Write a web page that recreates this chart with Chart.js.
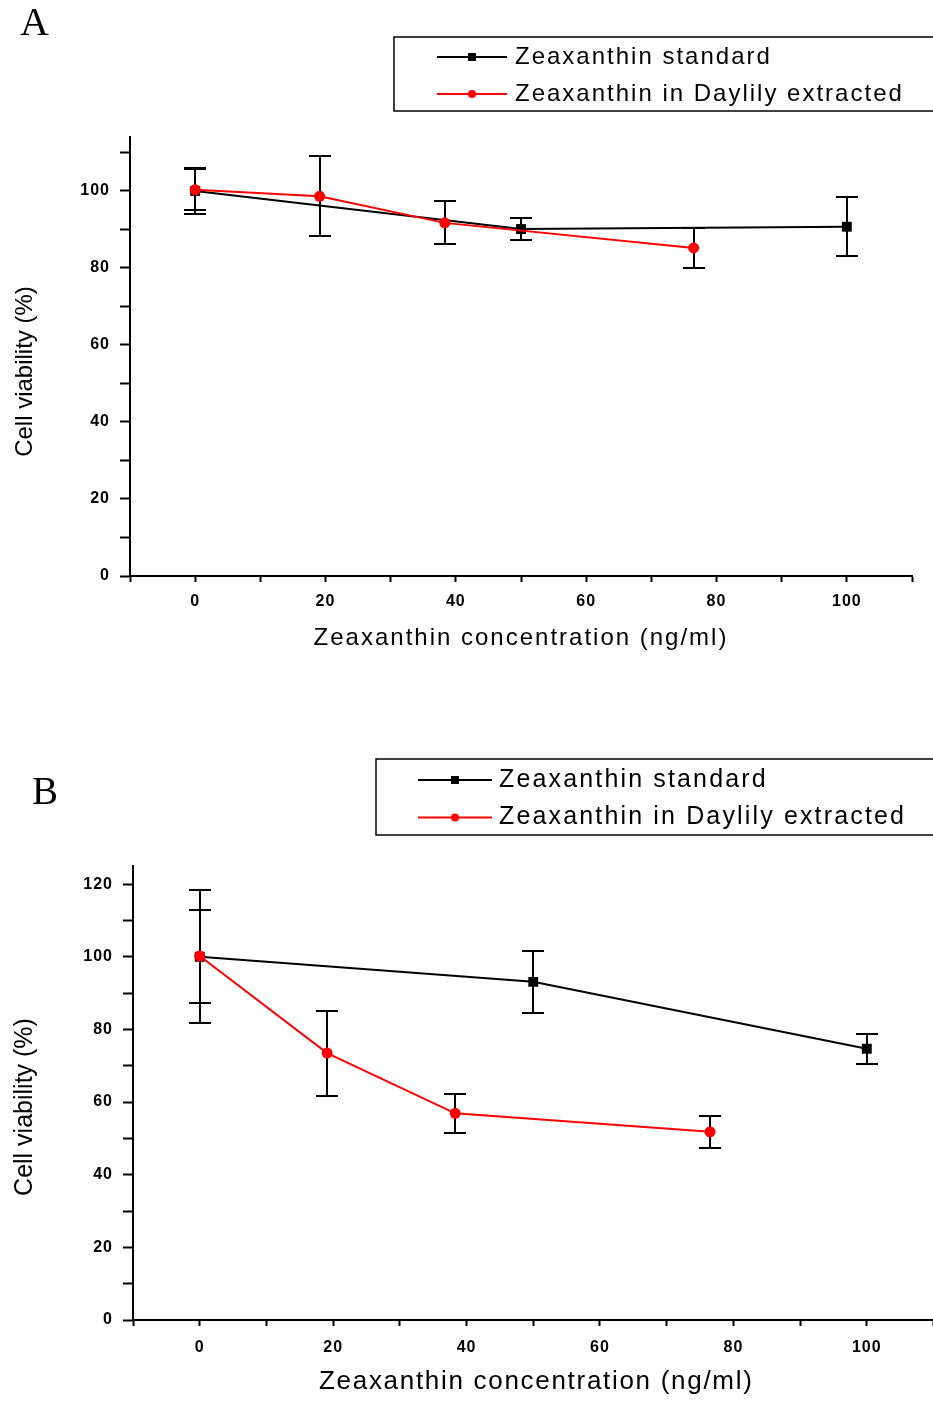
<!DOCTYPE html>
<html><head><meta charset="utf-8">
<script src="https://cdn.jsdelivr.net/npm/chart.js@4.4.1/dist/chart.umd.min.js"></script>
<style>
html,body{margin:0;padding:0;background:#fff;width:933px;height:1402px;overflow:hidden;}
#wrap{position:relative;width:933px;height:1402px;overflow:hidden;background:#fff;}
.panel{position:absolute;left:0;}
.panel canvas{display:block;}
.lbl{position:absolute;font-family:"Liberation Serif","Times New Roman",serif;line-height:1;color:#000;}
</style></head><body>
<div id="wrap">
  <div class="panel" style="top:0;width:945px;height:700px"><canvas id="cA" width="945" height="700"></canvas></div>
  <div class="panel" style="top:700px;width:945px;height:702px"><canvas id="cB" width="945" height="702"></canvas></div>
  <div class="lbl" style="left:20px;top:2px;font-size:40px">A</div>
  <div class="lbl" style="left:32px;top:771px;font-size:39px">B</div>
</div>
<script>
// ---------- data ----------
const seriesNames = ['Zeaxanthin standard', 'Zeaxanthin in Daylily extracted'];
const xTitle = 'Zeaxanthin concentration (ng/ml)';
const yTitle = 'Cell viability (%)';
const xTickValues = [0, 20, 40, 60, 80, 100];
const yTickValuesA = [0, 20, 40, 60, 80, 100];
const yTickValuesB = [0, 20, 40, 60, 80, 100, 120];

// Panel A
const stdConcA = [0, 50, 100];
const stdViabA = [100.0, 90.1, 90.7];
const stdErrA  = [5.9, 2.9, 7.7];
const extConcA = [0, 19.1, 38.3, 76.5];
const extViabA = [100.3, 98.6, 91.7, 85.2];
const extErrA  = [5.3, 10.4, 5.6, 5.1];

// Panel B
const stdConcB = [0, 50, 100];
const stdViabB = [100.0, 93.1, 74.7];
const stdErrB  = [12.8, 8.6, 4.1];
const extConcB = [0, 19.1, 38.3, 76.5];
const extViabB = [100.2, 73.5, 56.9, 51.8];
const extErrB  = [18.3, 11.7, 5.3, 4.5];

// ---------- custom scale with letter spacing ----------
class SpacedLinear extends Chart.LinearScale {
  drawTitle(...args) {
    const ctx = this.ctx, t = this.options.title;
    ctx.save();
    ctx.letterSpacing = (t.letterSpacing || 0) + 'px';
    if (t.shiftY) ctx.translate(0, t.shiftY);
    if (t.shiftX) ctx.translate(t.shiftX, 0);
    super.drawTitle(...args);
    ctx.restore();
  }
  drawLabels(area) {
    const ctx = this.ctx;
    ctx.save();
    ctx.letterSpacing = (this.options.ticks.letterSpacing || 0) + 'px';
    super.drawLabels(area);
    ctx.restore();
  }
}
SpacedLinear.id = 'spacedLinear';
SpacedLinear.defaults = Chart.LinearScale.defaults;
Chart.register(SpacedLinear);

// ---------- plugins ----------
const errorBars = {
  id: 'errorBars',
  beforeDatasetsDraw(chart) {
    const ctx = chart.ctx, xs = chart.scales.x, ys = chart.scales.y;
    ctx.save();
    ctx.strokeStyle = '#000';
    ctx.lineWidth = 2;
    chart.data.datasets.forEach(ds => {
      ds.data.forEach((p, j) => {
        const e = ds.errors[j];
        const px = Math.round(xs.getPixelForValue(p.x));
        const yt = Math.round(ys.getPixelForValue(p.y + e));
        const yb = Math.round(ys.getPixelForValue(p.y - e));
        ctx.beginPath();
        ctx.moveTo(px, yt); ctx.lineTo(px, yb);
        ctx.moveTo(px - 11, yt); ctx.lineTo(px + 11, yt);
        ctx.moveTo(px - 11, yb); ctx.lineTo(px + 11, yb);
        ctx.stroke();
      });
    });
    ctx.restore();
  }
};

const boxLegend = {
  id: 'boxLegend',
  afterDraw(chart, args, o) {
    const ctx = chart.ctx;
    ctx.save();
    ctx.strokeStyle = '#000';
    ctx.lineWidth = 1.5;
    ctx.strokeRect(o.left, o.top, o.right - o.left, o.bottom - o.top);
    const order = [1, 0];
    order.forEach((di, r) => {
      const ds = chart.data.datasets[di];
      const y = o.rows[r];
      ctx.strokeStyle = ds.borderColor;
      ctx.lineWidth = 2;
      ctx.beginPath(); ctx.moveTo(o.x1, y); ctx.lineTo(o.x2, y); ctx.stroke();
      const mx = (o.x1 + o.x2) / 2;
      ctx.fillStyle = ds.backgroundColor;
      if (ds.pointStyle === 'rect') { ctx.fillRect(mx - 4, y - 4, 8, 8); }
      else { ctx.beginPath(); ctx.arc(mx, y, 4, 0, Math.PI * 2); ctx.fill(); }
      ctx.fillStyle = '#000';
      ctx.font = o.fontSize + 'px "Liberation Sans", Arial, sans-serif';
      ctx.letterSpacing = o.spacing + 'px';
      ctx.textBaseline = 'middle';
      ctx.textAlign = 'left';
      ctx.fillText(ds.label, o.textX, y);
    });
    ctx.restore();
  }
};

function pts(xs, ys) { return xs.map((x, i) => ({ x: x, y: ys[i] })); }

function makeChart(id, cfg) {
  const tickFont = { family: '"Liberation Sans", Arial, sans-serif', size: 16, weight: 'bold' };
  return new Chart(document.getElementById(id), {
    type: 'scatter',
    data: {
      datasets: [
        { label: seriesNames[1], data: pts(cfg.extConc, cfg.extViab), errors: cfg.extErr,
          showLine: true, borderColor: '#ff0000', backgroundColor: '#ff0000', borderWidth: 2,
          pointStyle: 'circle', pointRadius: 5.5, pointBorderWidth: 0, tension: 0, order: 1 },
        { label: seriesNames[0], data: pts(cfg.stdConc, cfg.stdViab), errors: cfg.stdErr,
          showLine: true, borderColor: '#000000', backgroundColor: '#000000', borderWidth: 2,
          pointStyle: 'rect', pointRadius: 7, pointBorderWidth: 0, tension: 0, order: 2 }
      ]
    },
    options: {
      responsive: false,
      animation: false,
      events: [],
      layout: { padding: { top: cfg.areaTop, right: cfg.canvasW - cfg.areaRight, bottom: 0, left: 0 } },
      plugins: {
        legend: { display: false },
        tooltip: { enabled: false },
        boxLegend: cfg.legend
      },
      scales: {
        x: {
          type: 'spacedLinear', min: -10, max: 110,
          grid: { drawOnChartArea: false, drawTicks: true, tickLength: 6, tickWidth: 2, tickColor: '#000' },
          border: { display: true, color: '#000', width: 2 },
          ticks: { stepSize: 10, includeBounds: false, autoSkip: false, maxRotation: 0, color: '#000',
                   font: tickFont, padding: cfg.xTickPad, letterSpacing: 1,
                   callback: v => xTickValues.includes(v) ? String(v) : '' },
          title: { display: true, text: xTitle, color: '#000',
                   font: { family: '"Liberation Sans", Arial, sans-serif', size: cfg.xTitleSize, lineHeight: 1.2 },
                   padding: { top: 0, bottom: cfg.xTitlePad }, letterSpacing: cfg.xTitleSpacing, shiftX: cfg.xTitleShift },
          afterFit: s => { s.height = cfg.canvasH - cfg.areaBottom; }
        },
        y: {
          type: 'spacedLinear', min: 0, max: cfg.yMax,
          grid: { drawOnChartArea: false, drawTicks: true, tickLength: 10, tickWidth: 2, tickColor: '#000' },
          border: { display: true, color: '#000', width: 2 },
          ticks: { stepSize: 10, includeBounds: false, autoSkip: false, color: '#000',
                   font: tickFont, padding: 10, letterSpacing: 1,
                   callback: v => cfg.yTicks.includes(v) ? String(v) : '' },
          title: { display: true, text: yTitle, color: '#000',
                   font: { family: '"Liberation Sans", Arial, sans-serif', size: cfg.yTitleSize, lineHeight: 1.2 },
                   padding: { top: cfg.yTitlePad, bottom: 0 }, shiftY: cfg.yTitleShift },
          afterFit: s => { s.width = cfg.areaLeft; }
        }
      }
    },
    plugins: [errorBars, boxLegend]
  });
}

makeChart('cA', {
  canvasW: 945, canvasH: 700, areaLeft: 130, areaRight: 912, areaTop: 137, areaBottom: 576,
  yMax: 114, yTicks: yTickValuesA,
  stdConc: stdConcA, stdViab: stdViabA, stdErr: stdErrA,
  extConc: extConcA, extViab: extViabA, extErr: extErrA,
  xTickPad: 10, xTitleSize: 24, xTitlePad: 47.6, xTitleSpacing: 2, xTitleShift: 0,
  yTitleSize: 24, yTitlePad: 10.6, yTitleShift: 15,
  legend: { left: 394, top: 37, right: 950, bottom: 111, rows: [57, 94], x1: 437, x2: 507, textX: 515, fontSize: 24, spacing: 2.0 }
});

makeChart('cB', {
  canvasW: 945, canvasH: 702, areaLeft: 133, areaRight: 936, areaTop: 166, areaBottom: 620,
  yMax: 125, yTicks: yTickValuesB,
  stdConc: stdConcB, stdViab: stdViabB, stdErr: stdErrB,
  extConc: extConcB, extViab: extViabB, extErr: extErrB,
  xTickPad: 11.5, xTitleSize: 26, xTitlePad: 4.4, xTitleSpacing: 1.7, xTitleShift: 3,
  yTitleSize: 25, yTitlePad: 10, yTitleShift: 14,
  legend: { left: 376, top: 59, right: 950, bottom: 135, rows: [80, 117.5], x1: 418, x2: 492, textX: 499, fontSize: 25, spacing: 2.15 }
});
</script>
</body></html>
